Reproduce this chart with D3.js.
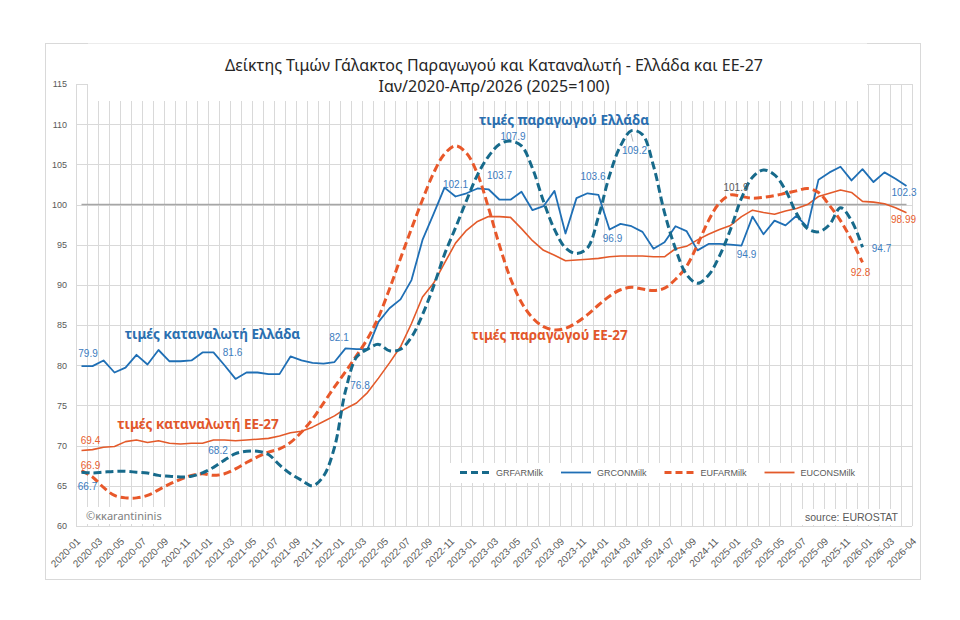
<!DOCTYPE html>
<html>
<head>
<meta charset="utf-8">
<style>
  body { margin: 0; background: #fff; }
  text { font-family: "Liberation Sans", Arial, sans-serif; }
</style>
</head>
<body>
<svg width="960" height="620"></svg>
<script src="https://d3js.org/d3.v7.min.js"></script>
<script>

// ---- data ----
var months = [
  "2020-01","2020-02","2020-03","2020-04","2020-05","2020-06","2020-07","2020-08","2020-09","2020-10","2020-11","2020-12",
  "2021-01","2021-02","2021-03","2021-04","2021-05","2021-06","2021-07","2021-08","2021-09","2021-10","2021-11","2021-12",
  "2022-01","2022-02","2022-03","2022-04","2022-05","2022-06","2022-07","2022-08","2022-09","2022-10","2022-11","2022-12",
  "2023-01","2023-02","2023-03","2023-04","2023-05","2023-06","2023-07","2023-08","2023-09","2023-10","2023-11","2023-12",
  "2024-01","2024-02","2024-03","2024-04","2024-05","2024-06","2024-07","2024-08","2024-09","2024-10","2024-11","2024-12",
  "2025-01","2025-02","2025-03","2025-04","2025-05","2025-06","2025-07","2025-08","2025-09","2025-10","2025-11","2025-12",
  "2026-01","2026-02","2026-03","2026-04"
];

var tickLabels = [
  "2020-01","2020-03","2020-05","2020-07","2020-09","2020-11",
  "2021-01","2021-03","2021-05","2021-07","2021-09","2021-11",
  "2022-01","2022-03","2022-05","2022-07","2022-09","2022-11",
  "2023-01","2023-03","2023-05","2023-07","2023-09","2023-11",
  "2024-01","2024-03","2024-05","2024-07","2024-09","2024-11",
  "2025-01","2025-03","2025-05","2025-07","2025-09","2025-11",
  "2026-01","2026-03","2026-04"
];

var yTicks = [60, 65, 70, 75, 80, 85, 90, 95, 100, 105, 110, 115];

// producer price Greece (to 2025-12)
var grFarm = [
  66.7, 66.6, 66.7, 66.8, 66.8, 66.7, 66.6, 66.3, 66.2, 66.1, 66.2, 66.6,
  67.3, 68.2, 69.0, 69.3, 69.3, 68.9, 67.6, 66.5, 65.7, 65.0, 66.2, 69.8,
  76.8, 81.0, 82.0, 82.6, 81.8, 82.0, 83.5, 86.3, 89.8, 93.8, 97.1, 100.5,
  103.7, 106.0, 107.5, 107.9, 107.3, 104.5, 100.4, 96.9, 94.6, 93.9, 94.6, 98.5,
  103.6, 107.3, 109.2, 108.7, 104.8, 99.0, 94.5, 91.3, 90.2, 91.2, 93.6, 96.9,
  100.8, 103.4, 104.3, 103.7, 101.8, 98.9, 97.0, 96.6, 97.5, 99.6, 98.0, 94.7
];

// consumer price Greece
var grCons = [
  79.9, 79.9, 80.6, 79.1, 79.7, 81.3, 80.1, 81.9, 80.5, 80.5, 80.6, 81.6,
  81.6, 80.0, 78.3, 79.1, 79.1, 78.9, 78.9, 81.1, 80.6, 80.3, 80.2, 80.4,
  82.1, 82.0, 82.0, 85.4, 87.1, 88.2, 90.6, 95.6, 98.8, 102.1, 101.0, 101.4,
  102.0, 101.9, 100.6, 100.6, 101.6, 99.3, 99.8, 101.7, 96.4, 100.8, 101.4, 101.2,
  96.9, 97.6, 97.3, 96.6, 94.5, 95.3, 97.3, 96.7, 94.3, 95.1, 95.1, 95.0,
  94.9, 98.5, 96.3, 98.0, 97.4, 98.6, 97.2, 103.1, 104.0, 104.7, 103.0, 104.4,
  102.8, 104.0, 103.2, 102.3
];

// producer price EU-27 (to 2025-12)
var euFarm = [
  66.9, 66.1, 64.8, 63.8, 63.5, 63.5, 63.8, 64.5, 65.2, 65.8, 66.3, 66.5,
  66.3, 66.5, 67.1, 67.9, 68.6, 69.2, 69.6, 70.4, 71.7, 73.3, 75.3, 77.3,
  79.2, 81.2, 83.3, 86.0, 89.5, 93.3, 97.0, 100.6, 103.9, 106.3, 107.3, 106.4,
  103.8, 99.6, 94.9, 90.8, 87.8, 85.9, 84.8, 84.4, 84.6, 85.3, 86.3, 87.5,
  88.6, 89.4, 89.7, 89.5, 89.3, 89.6, 90.7, 92.3, 95.0, 98.0, 100.2, 101.2,
  101.0, 100.8, 100.9, 101.1, 101.4, 101.7, 102.0, 101.5, 99.9, 98.0, 95.6, 92.8
];

// consumer price EU-27
var euCons = [
  69.4, 69.5, 69.8, 69.9, 70.5, 70.7, 70.4, 70.6, 70.3, 70.2, 70.3, 70.3,
  70.7, 70.7, 70.6, 70.7, 70.8, 70.9, 71.2, 71.6, 71.8, 72.3, 73.0, 73.7,
  74.6, 75.3, 76.6, 78.4, 80.3, 82.3, 85.2, 88.5, 90.2, 92.7, 95.2, 96.8,
  97.9, 98.5, 98.5, 98.4, 97.0, 95.5, 94.3, 93.7, 93.0, 93.1, 93.2, 93.3,
  93.5, 93.6, 93.6, 93.6, 93.5, 93.5, 94.5, 94.8, 95.6, 96.3, 96.9, 97.4,
  98.5, 99.3, 99.0, 98.8, 99.2, 99.5, 100.0, 101.0, 101.4, 101.8, 101.5, 100.4,
  100.3, 100.1, 99.6, 98.99
];

var seriesNames = ["GRFARMilk", "GRCONMilk", "EUFARMilk", "EUCONSMilk"];

var titleLines = [
  "Δείκτης Τιμών Γάλακτος Παραγωγού και Καταναλωτή - Ελλάδα και ΕΕ-27",
  "Ιαν/2020-Απρ/2026 (2025=100)"
];

// data labels as shown on the chart
var pointLabels = [
  { s: "GRCONMilk", m: "2020-01", t: "79.9", dx: 6.5, dy: -13 },
  { s: "GRCONMilk", m: "2021-01", t: "81.6", dx: 19, dy: 0.5 },
  { s: "GRCONMilk", m: "2022-01", t: "82.1", dx: -6.5, dy: -11 },
  { s: "GRFARMilk", m: "2022-01", t: "76.8", dx: 14.5, dy: -5 },
  { s: "GRFARMilk", m: "2021-02", t: "68.2", dx: -6.5, dy: -10 },
  { s: "EUCONSMilk", m: "2020-01", t: "69.4", dx: 9, dy: -9.5 },
  { s: "EUFARMilk", m: "2020-01", t: "66.9", dx: 9, dy: -5 },
  { s: "GRFARMilk", m: "2020-01", t: "66.7", dx: 6, dy: 14.5 },
  { s: "GRCONMilk", m: "2022-10", t: "102.1", dx: 11, dy: -3.5 },
  { s: "GRFARMilk", m: "2023-01", t: "103.7", dx: 22, dy: 1 },
  { s: "GRFARMilk", m: "2023-04", t: "107.9", dx: 2.5, dy: -4.5 },
  { s: "GRFARMilk", m: "2024-01", t: "103.6", dx: -16.5, dy: 0.5 },
  { s: "GRFARMilk", m: "2024-03", t: "109.2", dx: 3, dy: 19.5, lead: true },
  { s: "GRCONMilk", m: "2024-01", t: "96.9", dx: 3, dy: 9.5 },
  { s: "EUFARMilk", m: "2024-12", t: "101.9", dx: 5.5, dy: -7, grey: true },
  { s: "GRCONMilk", m: "2025-01", t: "94.9", dx: 5, dy: 8.5 },
  { s: "GRCONMilk", m: "2026-04", t: "102.3", dx: -2.5, dy: 6 },
  { s: "EUCONSMilk", m: "2026-04", t: "98.99", dx: -3, dy: 6.5 },
  { s: "GRFARMilk", m: "2025-12", t: "94.7", dx: 19, dy: 1 },
  { s: "EUFARMilk", m: "2025-12", t: "92.8", dx: -2, dy: 10 }
];

// free text on the plot, placed in data coordinates
var notes = [
  { t: "τιμές παραγωγού Ελλάδα", m: "2023-09", v: 110.5, dx: -1.5, gr: true },
  { t: "τιμές καταναλωτή Ελλάδα", m: "2021-01", v: 83.8, dx: -1, gr: true },
  { t: "τιμές καταναλωτή ΕΕ-27", m: "2020-11", v: 72.6, dx: 6.5, gr: false },
  { t: "τιμές παραγωγού ΕΕ-27", m: "2023-07", v: 83.7, dx: 6, gr: false }
];

// ---- chart ----
var svg = d3.select("svg");

var blue = "#1f6fb5", teal = "#176a8b", orange = "#e8582a", orangeSolid = "#e35a2a";
var grLabel = "#3c7cc0", euLabel = "#e8602f";

var style = {
  GRFARMilk:  { color: teal, width: 3, dash: "8,4", smooth: true, values: grFarm },
  GRCONMilk:  { color: blue, width: 1.8, dash: null, smooth: false, values: grCons },
  EUFARMilk:  { color: orange, width: 3, dash: "8,4", smooth: true, values: euFarm },
  EUCONSMilk: { color: orangeSolid, width: 1.6, dash: null, smooth: false, values: euCons }
};

var x = d3.scaleBand().domain(months).range([76, 912]).padding(0);
var y = d3.scaleLinear().domain([60, 115]).range([526, 84]);
var cx = function(m) { return x(m) + x.bandwidth() / 2; };

svg.append("rect")
    .attr("x", 45.5).attr("y", 43.5).attr("width", 875).attr("height", 536)
    .attr("fill", "#fff").attr("stroke", "#d9d9d9");

// gridlines
var grid = svg.append("g").attr("stroke", "#d9d9d9").attr("stroke-width", 1);
grid.selectAll("line.h").data(yTicks).enter().append("line")
    .attr("x1", 76).attr("x2", 912)
    .attr("y1", function(d) { return Math.round(y(d)) + 0.5; })
    .attr("y2", function(d) { return Math.round(y(d)) + 0.5; });
grid.selectAll("line.v").data(months.map(function(m) { return x(m); }).concat([912])).enter().append("line")
    .attr("x1", function(d) { return Math.round(d) + 0.5; })
    .attr("x2", function(d) { return Math.round(d) + 0.5; })
    .attr("y1", y(115)).attr("y2", y(60));

// white boxes of the title, legend and notes
var boxes = [[88, 43.5, 779, 57.5], [448, 463, 419, 20], [800, 509, 100, 16], [83, 507, 90, 17]];
svg.selectAll("rect.box").data(boxes).enter().append("rect")
    .attr("x", function(d) { return d[0]; }).attr("y", function(d) { return d[1]; })
    .attr("width", function(d) { return d[2]; }).attr("height", function(d) { return d[3]; })
    .attr("fill", "#fff");

// 100 reference line
svg.append("line")
    .attr("x1", cx(months[0])).attr("x2", cx(months[months.length - 1]))
    .attr("y1", y(100)).attr("y2", y(100))
    .attr("stroke", "#a6a6a6").attr("stroke-width", 1.6);

// axes
var yAxis = svg.append("g")
    .attr("transform", "translate(76,0)")
    .call(d3.axisLeft(y).tickValues(yTicks).tickSize(0).tickPadding(9));
yAxis.select(".domain").remove();
yAxis.selectAll("text").attr("fill", "#595959").style("font-size", "9px");

var xAxis = svg.append("g")
    .attr("transform", "translate(0,526)")
    .call(d3.axisBottom(x).tickValues(tickLabels).tickSize(0));
xAxis.select(".domain").remove();
var lastTick = tickLabels[tickLabels.length - 1];
xAxis.selectAll("text")
    .attr("x", 0).attr("y", 0).attr("dy", "0.35em")
    // the last label sits one slot further right, as in the original
    .attr("transform", function(d) {
      var shift = d === lastTick ? x.bandwidth() : 0;
      return "translate(" + (shift - 3) + ",13.5) rotate(-45)";
    })
    .style("text-anchor", "end")
    .style("font-size", "10px")
    .attr("fill", "#595959");

// series lines
var order = ["EUCONSMilk", "GRCONMilk", "EUFARMilk", "GRFARMilk"];
order.forEach(function(name) {
  var s = style[name];
  var pts = s.values.map(function(v, i) { return { m: months[i], v: v }; });
  var line = d3.line()
      .x(function(d) { return cx(d.m); })
      .y(function(d) { return y(d.v); })
      .curve(s.smooth ? d3.curveCatmullRom.alpha(0.5) : d3.curveLinear);
  svg.append("path")
      .datum(pts)
      .attr("fill", "none")
      .attr("stroke", s.color)
      .attr("stroke-width", s.width)
      .attr("stroke-dasharray", s.dash)
      .attr("stroke-linejoin", "round")
      .attr("d", line);
});

// data labels
var lab = svg.append("g").style("font-size", "10px");
pointLabels.forEach(function(d) {
  var v = style[d.s].values[months.indexOf(d.m)];
  var px = cx(d.m), py = y(v);
  if (d.lead) {
    lab.append("line")
        .attr("x1", px - 0.5).attr("y1", py + 3)
        .attr("x2", px + 1.5).attr("y2", py + 11)
        .attr("stroke", "#a6a6a6").attr("stroke-width", 0.8);
  }
  lab.append("text")
      .attr("x", px + d.dx).attr("y", py + d.dy)
      .attr("dy", "0.35em")
      .attr("text-anchor", "middle")
      .attr("fill", d.grey ? "#595959" : (d.s.slice(0, 2) === "GR" ? grLabel : euLabel))
      .text(d.t);
});

// notes
svg.selectAll("text.note").data(notes).enter().append("text")
    .attr("x", function(d) { return cx(d.m) + d.dx; })
    .attr("y", function(d) { return y(d.v); })
    .attr("dy", "0.35em")
    .attr("text-anchor", "middle")
    .style("font-family", "'Noto Sans', sans-serif")
    .style("font-weight", "bold")
    .style("font-size", "13.5px")
    .attr("fill", function(d) { return d.gr ? "#2a6fb0" : "#e2572b"; })
    .text(function(d) { return d.t; });

// title
svg.selectAll("text.title").data(titleLines).enter().append("text")
    .attr("x", 494)
    .attr("y", function(d, i) { return 65 + i * 21.5; })
    .attr("dy", "0.35em")
    .attr("text-anchor", "middle")
    .style("font-family", "'Noto Sans', sans-serif")
    .style("font-size", "16px")
    .attr("fill", "#262626")
    .text(function(d) { return d; });

// legend
var legend = svg.append("g").attr("transform", "translate(460,472.5)");
var lx = 0;
seriesNames.forEach(function(name) {
  var s = style[name];
  var g = legend.append("g").attr("transform", "translate(" + lx + ",0)");
  g.append("line")
      .attr("x1", 0).attr("x2", 30).attr("y1", 0).attr("y2", 0)
      .attr("stroke", s.color)
      .attr("stroke-width", s.dash ? 3 : 1.8)
      .attr("stroke-dasharray", s.dash ? "7,4" : null);
  var t = g.append("text")
      .attr("x", 36).attr("dy", "0.35em")
      .style("font-size", "9px")
      .attr("fill", "#595959")
      .text(name);
  lx += 36 + t.node().getComputedTextLength() + 18;
});

// source and author
svg.append("text")
    .attr("x", 898).attr("y", 517.5).attr("dy", "0.35em")
    .attr("text-anchor", "end")
    .style("font-size", "10.5px")
    .attr("fill", "#595959")
    .text("source: EUROSTAT");

svg.append("text")
    .attr("x", 86).attr("y", 516.5).attr("dy", "0.35em")
    .style("font-family", "'Noto Sans', sans-serif")
    .style("font-size", "11px")
    .attr("fill", "#808080")
    .text("©κκarantininis");

</script>
</body>
</html>
